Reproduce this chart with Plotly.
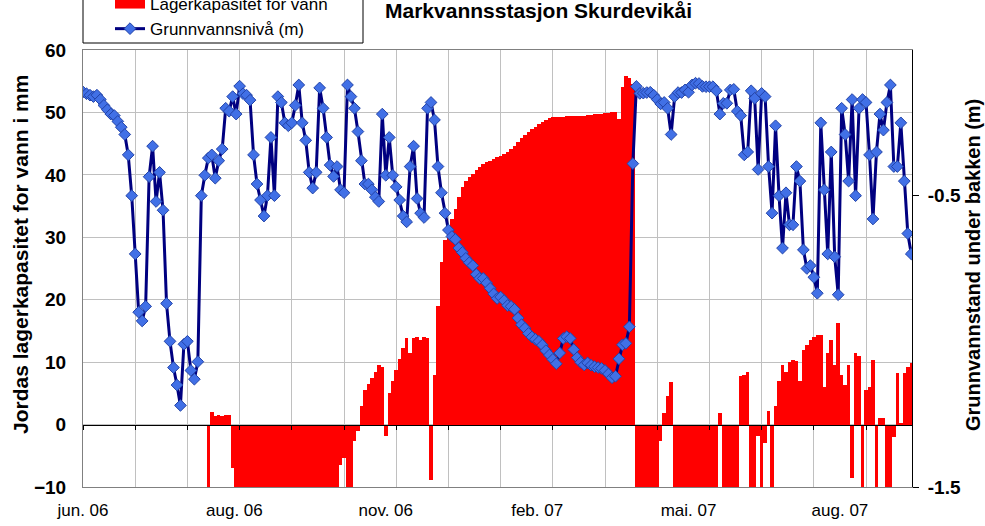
import pandas as pd
import plotly.graph_objects as go

# daily values sampled every second day from 2006-06-01
start = "2006-06-01"

# Lagerkapasitet for vann (mm), left axis
lagerkap = (
    [0] * 36
    + [-12, 2.0, 1.3, 1.6, 1.3, 1.6, 1.5, -7]
    + [-12] * 30
    + [-6.5, -5.3, -12, -12, -2.7, -1.1, 3, 5.5, 6.5, 7.5, 8.5, 9.5, 9.3, -1.9,
       5.1, 7, 8.8, 10.5, 12.2, 13.8, 11.5, 13.8, 14, 13.5, 14, 13.8, -8.8,
       8, 19, 26, 29.5, 31.5, 33, 34.5, 36.5, 38, 39, 39.6, 40.2, 40.8, 41.2,
       41.7, 42, 42.3, 42.6, 42.8, 43.1, 43.4, 43.7, 44.2, 44.7, 45.3, 45.9,
       46.4, 46.9, 47.3, 47.7, 48.1, 48.4, 48.8, 49.1, 49.2,
       49.3, 49.3, 49.3, 49.4, 49.4, 49.4, 49.5, 49.5, 49.5, 49.6, 49.6, 49.7,
       49.7, 49.8, 49.9, 49.9, 50.0, 50, 49, 54, 55.8, 55.5, 54.5]
    + [-12] * 7
    + [-2.7, 1.9, 4.5, 6.9]
    + [-12] * 13
    + [1.9]
    + [-12] * 5
    + [7.8, 8, 8.5, -12, -12, -1.9, -12, -3, 2.1, -12, 3,
       7, 9.6, 8.5, 10, 10.4, 10.2, 7, 12, 12.8, 13.5, 14, 14.3, 14.4, 6,
       11.5, 13.5, 9.5, 16.3, 8, 6.4, 9.5, -8.5, 11.5, 11, -12, 5.6, 6, 10.4,
       -12, 1, 1, -12, -12, -2, 8.3, 0.3, 8.3, 9.2, 9.9]
)

# Grunnvannsnivå (m), right axis
grunnvann = [
    -0.144, -0.15, -0.155, -0.16, -0.155, -0.17, -0.19, -0.205, -0.22, -0.225,
    -0.245, -0.265, -0.29, -0.36, -0.50, -0.70, -0.90, -0.93, -0.88, -0.435,
    -0.33, -0.52, -0.42, -0.55, -0.87, -1.0, -1.09, -1.15, -1.22, -1.01,
    -1.0, -1.10, -1.13, -1.07, -0.50, -0.43, -0.371, -0.36, -0.44, -0.38,
    -0.34, -0.2, -0.21, -0.16, -0.22, -0.124, -0.15, -0.155, -0.172, -0.36,
    -0.46, -0.515, -0.57, -0.50, -0.30, -0.50, -0.16, -0.18, -0.25, -0.26,
    -0.25, -0.19, -0.12, -0.25, -0.31, -0.42, -0.474, -0.42, -0.13, -0.2,
    -0.30, -0.395, -0.434, -0.40, -0.48, -0.49, -0.12, -0.16, -0.20, -0.28,
    -0.38, -0.46, -0.46, -0.48, -0.505, -0.52, -0.22, -0.43, -0.30, -0.43,
    -0.47, -0.515, -0.57, -0.59, -0.40, -0.33, -0.51, -0.56, -0.575, -0.2,
    -0.18, -0.24, -0.40, -0.49, -0.56, -0.618, -0.64, -0.65, -0.68, -0.695,
    -0.715, -0.73, -0.74, -0.77, -0.784, -0.784, -0.80, -0.818, -0.837, -0.853,
    -0.848, -0.86, -0.877, -0.88, -0.89, -0.92, -0.943, -0.955, -0.973, -0.985,
    -0.993, -1.0, -1.013, -1.032, -1.047, -1.062, -1.077, -1.04, -0.99, -0.984,
    -0.99, -1.028, -1.056, -1.072, -1.081, -1.074, -1.082, -1.087, -1.09, -1.093,
    -1.10, -1.112, -1.125, -1.12, -1.06, -1.012, -1.007, -0.95, -0.39, -0.125,
    -0.149, -0.148, -0.146, -0.145, -0.155, -0.17, -0.185, -0.18, -0.2, -0.29,
    -0.16, -0.146, -0.146, -0.137, -0.145, -0.12, -0.114, -0.115, -0.125, -0.126,
    -0.126, -0.126, -0.14, -0.22, -0.183, -0.183, -0.137, -0.135, -0.21, -0.225,
    -0.36, -0.35, -0.14, -0.166, -0.41, -0.149, -0.16, -0.40, -0.56, -0.26,
    -0.50, -0.68, -0.49, -0.60, -0.60, -0.40, -0.45, -0.686, -0.75, -0.74,
    -0.78, -0.835, -0.25, -0.48, -0.70, -0.35, -0.71, -0.84, -0.20, -0.29,
    -0.45, -0.17, -0.50, -0.20, -0.17, -0.18, -0.36, -0.58, -0.35, -0.22,
    -0.275, -0.18, -0.12, -0.40, -0.40, -0.25, -0.45, -0.63, -0.70,
]

tick_dates = ["2006-06-01", "2006-08-27", "2006-11-22", "2007-02-17", "2007-05-15", "2007-08-10"]
tick_text = ["jun. 06", "aug. 06", "nov. 06", "feb. 07", "mai. 07", "aug. 07"]

dates = pd.date_range(start, periods=len(lagerkap), freq="2D")
DAY = 86400000
FONT = "Liberation Sans, Arial, sans-serif"

fig = go.Figure()
fig.add_trace(go.Bar(
    x=dates, y=lagerkap, width=2 * DAY, marker=dict(color="#FF0000", line=dict(width=0)),
    showlegend=False, yaxis="y",
))
# legend swatch for the bars
fig.add_trace(go.Scatter(
    x=[None], y=[None], mode="lines", line=dict(color="#FF0000", width=14),
    name="Lagerkapasitet for vann",
))
fig.add_trace(go.Scatter(
    x=dates[:len(grunnvann)], y=grunnvann, yaxis="y2", mode="lines+markers",
    line=dict(color="#000080", width=3),
    marker=dict(symbol="diamond", size=9, color="#4170E6", line=dict(color="#2243A8", width=1)),
    name="Grunnvannsnivå (m)",
))
# carrier for the axis line at y=0
fig.add_trace(go.Scatter(x=[None], y=[None], xaxis="x2", showlegend=False, hoverinfo="skip"))

xr = ["2006-06-01", "2007-09-20 10:00"]
fig.update_layout(
    width=985, height=526,
    margin=dict(l=83, r=73, t=50, b=39, autoexpand=False),
    paper_bgcolor="white", plot_bgcolor="white",
    font=dict(family=FONT, color="black"),
    bargap=0,
    showlegend=True,
    legend=dict(
        x=(110 - 83) / 829, xanchor="left", y=(487 + 14) / 437, yanchor="top",
        bgcolor="rgba(0,0,0,0)", borderwidth=0, font=dict(size=17),
        traceorder="normal",
    ),
    xaxis=dict(
        type="date", range=xr, tickmode="array", tickvals=tick_dates, ticktext=tick_text,
        showgrid=False, ticks="", tickfont=dict(size=17), ticklabelstandoff=8,
        showline=True, linecolor="#808080", linewidth=1, mirror=True, zeroline=False,
    ),
    xaxis2=dict(
        type="date", overlaying="x", matches="x", anchor="free", position=10 / 70,
        tick0=start, dtick=30 * DAY, showticklabels=False, ticks="outside", ticklen=4,
        tickcolor="black", showgrid=True, gridcolor="#C0C0C0", gridwidth=1,
        showline=True, linecolor="black", linewidth=1, layer="above traces", zeroline=False,
    ),
    yaxis=dict(
        range=[-10, 60], dtick=10, tick0=0, showgrid=True, gridcolor="#C0C0C0",
        zeroline=False, showline=True, linecolor="#808080", ticks="",
        tickfont=dict(size=19, weight="bold"), ticklabelstandoff=12,
    ),
    yaxis2=dict(
        overlaying="y", side="right", range=[-1.5, 0.0], tickmode="array",
        tickvals=[-1.5, -0.5], ticktext=["-1.5", "-0.5"], showgrid=False, zeroline=False,
        showline=True, linecolor="black", linewidth=1, ticks="outside", ticklen=6,
        tickcolor="black", tickfont=dict(size=19, weight="bold"), ticklabelstandoff=5,
    ),
    shapes=[dict(
        type="rect", xref="paper", yref="paper", x0=0, x1=(363 - 83) / 829,
        y0=(487 - 43) / 437, y1=1.3, line=dict(color="black", width=1), fillcolor="white",
        layer="above",
    )],
    annotations=[
        dict(text="Markvannsstasjon Skurdevikåi", xref="paper", yref="paper",
             x=(383 - 83) / 829, y=(487 - 10) / 437, xanchor="left", yanchor="middle",
             showarrow=False, font=dict(size=21, weight="bold")),
        dict(text="Jordas lagerkapasitet for vann i mm", xref="paper", yref="paper",
             x=(20 - 83) / 829, y=(487 - 255) / 437, textangle=-90, xanchor="center",
             yanchor="middle", showarrow=False, font=dict(size=21, weight="bold")),
        dict(text="Grunnvannstand under bakken (m)", xref="paper", yref="paper",
             x=(973 - 83) / 829, y=(487 - 265) / 437, textangle=-90, xanchor="center",
             yanchor="middle", showarrow=False, font=dict(size=20, weight="bold")),
    ],
)

fig.write_html("out.html", config={"displayModeBar": False},
               post_script="document.body.style.margin='0';")
